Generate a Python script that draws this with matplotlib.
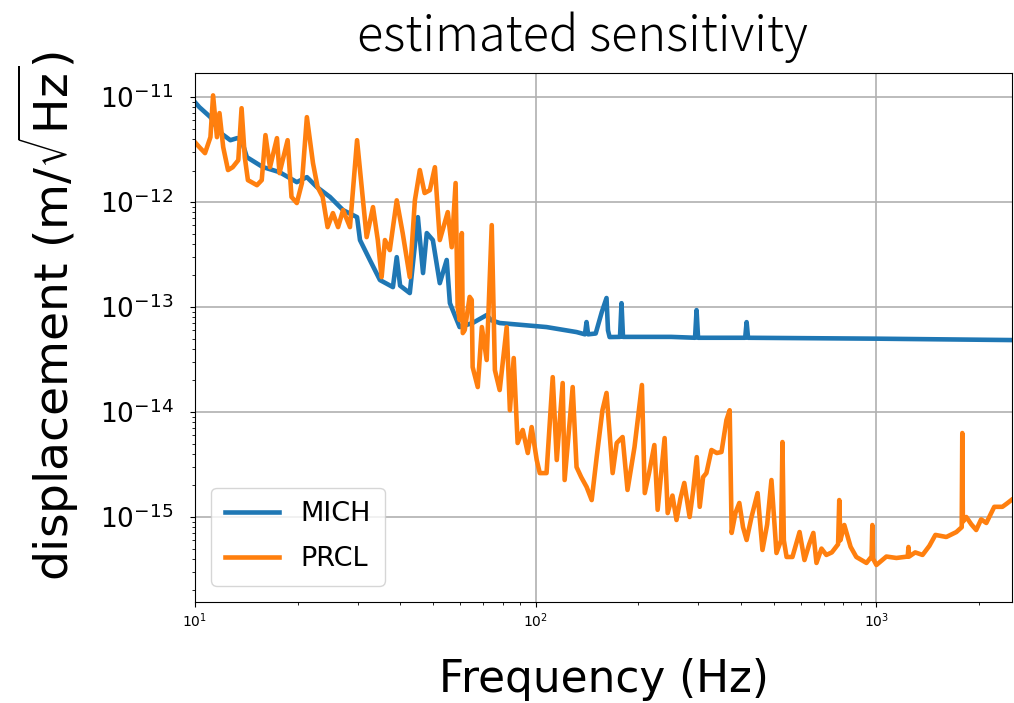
import matplotlib
matplotlib.use("Agg")
import matplotlib.pyplot as plt

# MICH displacement spectrum (Hz, m/rtHz)
mich_freq = [10.0, 10.3, 11.1, 11.8, 12.7, 13.3, 13.7, 14.2, 15.8, 17.7,
             19.9, 21.3, 22.8, 24.9, 27.2, 29.9, 30.5, 32.6, 34.9, 38.1,
             39.1, 40.0, 42.7, 45.1, 46.7, 47.9, 49.9, 52.3, 54.8, 56.0,
             59.8, 65.3, 71.8, 74.0, 78.4, 107.6, 131.8, 139.5, 141.0, 142.5,
             150.0, 156.3, 161.4, 163.0, 164.8, 176.8, 178.6, 180.4, 250.0, 293.6,
             296.6, 299.6, 412.0, 416.0, 420.0, 1000.0, 2489.0]
mich_asd = [8.95e-12, 8.03e-12, 6.45e-12, 4.64e-12, 3.89e-12, 4.07e-12, 3.89e-12, 2.68e-12, 2.16e-12, 1.93e-12,
            1.55e-12, 1.73e-12, 1.39e-12, 1.12e-12, 8.39e-13, 7.19e-13, 4.35e-13, 2.81e-13, 1.81e-13, 1.55e-13,
            2.99e-13, 1.6e-13, 1.36e-13, 7.19e-13, 2.11e-13, 5.07e-13, 4.35e-13, 1.69e-13, 2.81e-13, 1.09e-13,
            6.45e-14, 7.05e-14, 8.39e-14, 7.5e-14, 7.05e-14, 6.45e-14, 5.78e-14, 5.5e-14, 7.2e-14, 5.5e-14,
            5.6e-14, 8.96e-14, 1.22e-13, 6.0e-14, 5.18e-14, 5.2e-14, 1.09e-13, 5.2e-14, 5.2e-14, 5.1e-14,
            9.36e-14, 5.1e-14, 5.1e-14, 7.19e-14, 5.1e-14, 5.0e-14, 4.85e-14]

# PRCL displacement spectrum (Hz, m/rtHz)
prcl_freq = [10.0, 10.3, 10.7, 11.1, 11.3, 11.6, 11.8, 12.1, 12.5, 12.9,
             13.4, 13.7, 14.0, 14.3, 15.2, 15.7, 16.1, 16.6, 17.4, 17.7,
             18.7, 19.2, 19.9, 20.6, 21.3, 22.2, 22.9, 23.7, 24.5, 25.4,
             26.3, 27.2, 28.5, 29.9, 30.5, 31.1, 31.9, 33.3, 34.4, 35.3,
             36.1, 37.3, 39.1, 40.7, 42.7, 44.2, 45.7, 47.2, 48.9, 50.6,
             52.3, 55.2, 56.7, 58.2, 59.0, 59.8, 60.7, 61.1, 61.9, 64.0,
             64.9, 65.3, 67.6, 69.5, 71.8, 74.3, 75.9, 78.4, 82.2, 84.0,
             86.2, 88.5, 91.6, 94.8, 97.3, 100.7, 102.8, 107.6, 112.2, 115.3,
             120.0, 121.6, 128.4, 131.8, 136.0, 141.1, 146.0, 151.0, 157.0, 161.4,
             168.2, 172.9, 179.9, 186.0, 195.0, 205.0, 209.0, 215.0, 223.0, 228.0,
             239.0, 244.0, 252.0, 259.0, 266.0, 273.0, 283.0, 290.0, 297.0, 303.0,
             310.0, 317.0, 328.0, 340.0, 351.0, 363.0, 371.0, 376.0, 386.0, 396.0,
             406.0, 416.0, 430.0, 448.0, 463.0, 478.0, 492.0, 509.0, 525.0, 530.0,
             535.0, 545.0, 567.0, 595.0, 615.0, 635.0, 653.0, 667.0, 690.0, 713.0,
             740.0, 772.0, 778.0, 784.0, 805.0, 840.0, 873.0, 935.0, 968.0, 973.0,
             978.0, 1000.0, 1070.0, 1145.0, 1236.0, 1242.0, 1248.0, 1300.0, 1366.0, 1430.0,
             1490.0, 1604.0, 1717.0, 1780.0, 1787.0, 1794.0, 1836.0, 1900.0, 1963.0, 2030.0,
             2102.0, 2160.0, 2218.0, 2343.0, 2420.0, 2489.0]
prcl_asd = [3.72e-12, 3.34e-12, 2.93e-12, 4.16e-12, 1.04e-11, 4.16e-12, 7.05e-12, 3.34e-12, 2.02e-12, 2.15e-12,
            2.51e-12, 7.85e-12, 2.68e-12, 1.62e-12, 1.45e-12, 1.62e-12, 4.35e-12, 2.15e-12, 4.07e-12, 1.89e-12,
            3.89e-12, 1.12e-12, 9.8e-13, 1.52e-12, 6.45e-12, 2.35e-12, 1.39e-12, 1.12e-12, 5.78e-13, 7.86e-13,
            5.78e-13, 8.39e-13, 5.78e-13, 3.89e-12, 2.02e-12, 1.04e-12, 4.64e-13, 8.96e-13, 4.35e-13, 1.93e-13,
            4.35e-13, 3.49e-13, 1.04e-12, 5.07e-13, 1.93e-13, 1.04e-12, 2.02e-12, 1.22e-12, 1.30e-12, 2.15e-12,
            4.35e-13, 8.03e-13, 3.72e-13, 1.52e-12, 1.0e-13, 7.52e-14, 5.07e-13, 5.65e-14, 6.04e-14, 1.25e-13,
            1.17e-13, 2.68e-14, 1.73e-14, 6.45e-14, 3.13e-14, 6.04e-13, 2.51e-14, 1.62e-14, 6.45e-14, 1.04e-14,
            3.27e-14, 5.07e-15, 6.75e-15, 4.07e-15, 7.19e-15, 3.49e-15, 2.62e-15, 2.62e-15, 2.15e-14, 3.49e-15,
            1.89e-14, 2.25e-15, 1.73e-14, 2.99e-15, 2.4e-15, 1.93e-15, 1.45e-15, 3.72e-15, 1.04e-14, 1.52e-14,
            2.62e-15, 5.07e-15, 5.78e-15, 1.81e-15, 4.64e-15, 1.81e-14, 1.69e-15, 2.6e-15, 4.85e-15, 1.17e-15,
            5.65e-15, 1.09e-15, 1.6e-15, 9.36e-16, 1.5e-15, 2.11e-15, 1.0e-15, 1.8e-15, 3.72e-15, 1.25e-15,
            2.4e-15, 2.62e-15, 4.35e-15, 4.07e-15, 4.16e-15, 8.39e-15, 1.04e-14, 7.05e-16, 1.1e-15, 1.36e-15,
            8.0e-16, 6.04e-16, 1.0e-15, 1.69e-15, 4.85e-16, 8.5e-16, 2.25e-15, 4.54e-16, 6.0e-16, 5.18e-15,
            6.0e-16, 4.16e-16, 4.16e-16, 7.19e-16, 3.89e-16, 5.5e-16, 7.05e-16, 3.65e-16, 5.0e-16, 4.35e-16,
            4.6e-16, 5.5e-16, 1.45e-15, 6.0e-16, 8.39e-16, 5.2e-16, 4.16e-16, 3.65e-16, 4.2e-16, 8.39e-16,
            4.0e-16, 3.49e-16, 4.2e-16, 4.07e-16, 4.2e-16, 5.18e-16, 4.2e-16, 4.6e-16, 4.35e-16, 5.3e-16,
            6.75e-16, 6.45e-16, 7.19e-16, 8.0e-16, 6.31e-15, 9.0e-16, 1.0e-15, 8.5e-16, 7.52e-16, 9.5e-16,
            8.77e-16, 1.05e-15, 1.25e-15, 1.25e-15, 1.35e-15, 1.45e-15]

fig = plt.figure(figsize=(10.14, 7.03), dpi=100)
ax = fig.add_axes([0.1923, 0.1437, 0.8057, 0.7525])

ax.loglog(mich_freq, mich_asd, color='tab:blue', lw=3.3, label='MICH')
ax.loglog(prcl_freq, prcl_asd, color='tab:orange', lw=3.3, label='PRCL')

ax.set_xlim(10, 2500)
ax.set_ylim(1.55e-16, 1.7e-11)
ax.grid(True, which='major', color='#b0b0b0', lw=1.2)

ax.tick_params(axis='y', which='major', labelsize=19, pad=12)
ax.tick_params(axis='x', which='major', labelsize=10)

ax.set_xlabel('Frequency (Hz)', fontsize=31.5, labelpad=20)
ax.set_ylabel(r'displacement (m/$\sqrt{\mathrm{Hz}}$)', fontsize=34)
ax.yaxis.set_label_coords(-0.14, 0.54)
ax.set_title('estimated sensitivity', fontsize=35, family=['Noto Sans CJK JP', 'DejaVu Sans'],
             weight='light', pad=16, x=0.474)

ax.legend(loc='lower left', fontsize=19.5, handlelength=2.0, labelspacing=0.7,
          borderaxespad=0.6, borderpad=0.5)

fig.savefig('out.png', dpi=100)
